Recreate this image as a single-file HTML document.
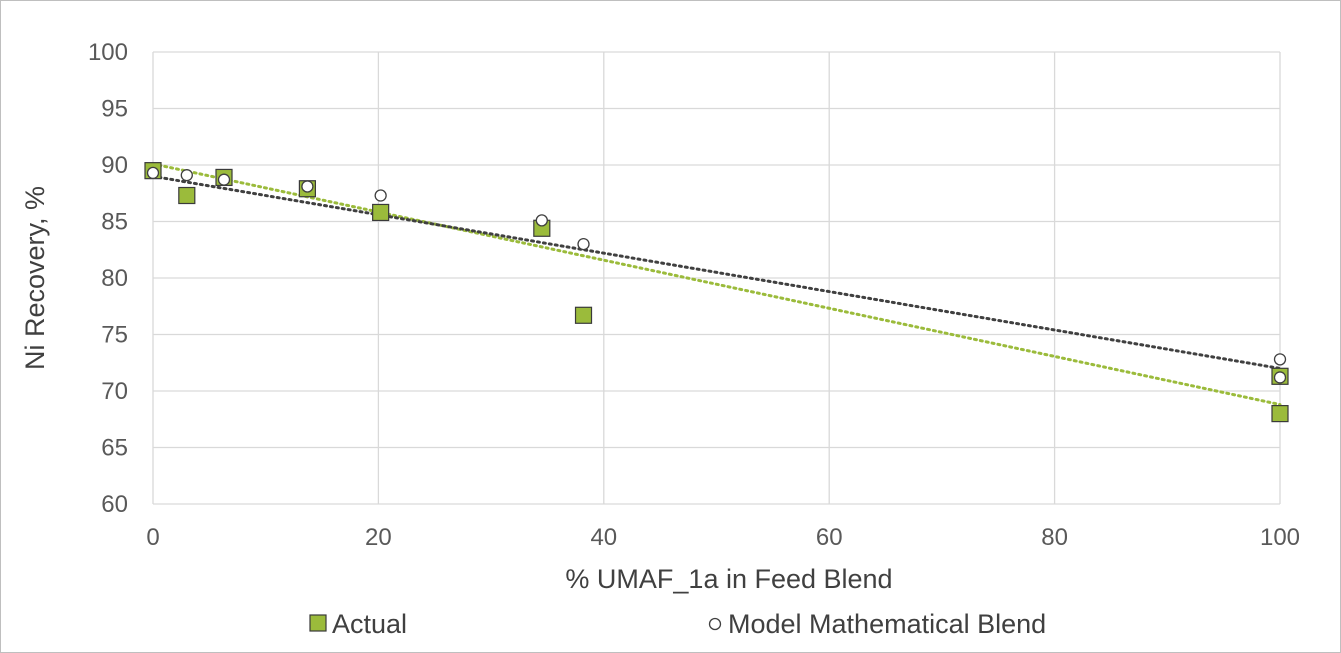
<!DOCTYPE html>
<html><head><meta charset="utf-8"><style>
html,body{margin:0;padding:0;background:#fff;}
svg{display:block;font-family:"Liberation Sans",Arial,sans-serif;}
</style></head><body>
<svg id="chart" width="1341" height="653">
<rect x="0.5" y="0.5" width="1340" height="652" fill="#fff" stroke="#bfbfbf"/>
<g id="grid"></g><g id="trends"></g><g id="marks"></g><g id="labels"></g>
<text x="44" y="278" font-size="27" fill="#404040" text-anchor="middle" transform="rotate(-90 44 278)">Ni Recovery, %</text>
<text x="729" y="588" font-size="27" fill="#404040" text-anchor="middle">% UMAF_1a in Feed Blend</text>
<g><rect x="310" y="615" width="16" height="16" fill="#9bbb3b" stroke="#3a3a3a" stroke-width="1.2"/><text x="332" y="633" font-size="27" fill="#404040">Actual</text></g>
<g><circle cx="715" cy="624" r="5.5" fill="#fff" stroke="#404040" stroke-width="1.3"/><text x="728" y="633" font-size="27" fill="#404040">Model Mathematical Blend</text></g>
</svg>
<script>
const xTicks=[0,20,40,60,80,100];
const yTicks=[60,65,70,75,80,85,90,95,100];
const actualX=[0,3,6.3,13.7,20.2,34.5,38.2,100,100];
const actualY=[89.5,87.3,88.9,87.9,85.8,84.4,76.7,71.3,68.0];
const modelX=[0,3,6.3,13.7,20.2,34.5,38.2,100,100];
const modelY=[89.3,89.1,88.7,88.1,87.3,85.1,83.0,72.8,71.2];
const actualTrend=[90.1,68.8];
const modelTrend=[89.0,72.0];
const NS="http://www.w3.org/2000/svg";
const X0=153,X1=1280,Y0=504,Y1=52;
const sx=v=>X0+(v-0)/(100-0)*(X1-X0);
const sy=v=>Y0-(v-60)/(100-60)*(Y0-Y1);
function mk(tag,attrs,parent){const e=document.createElementNS(NS,tag);for(const k in attrs)e.setAttribute(k,attrs[k]);parent.appendChild(e);return e;}
const grid=document.getElementById('grid'),labels=document.getElementById('labels'),marks=document.getElementById('marks'),trends=document.getElementById('trends');
yTicks.forEach(t=>{const l=mk('line',{x1:X0,x2:X1,y1:sy(t),y2:sy(t),stroke:'#d9d9d9','stroke-width':1.3},grid);


const tx=mk('text',{x:X0-25,y:sy(t)+8,'font-size':24,fill:'#595959','text-anchor':'end'},labels);tx.textContent=t;

});
xTicks.forEach(t=>{const l=mk('line',{x1:sx(t),x2:sx(t),y1:Y1,y2:Y0,stroke:'#d9d9d9','stroke-width':1.3},grid);


const tx=mk('text',{x:sx(t),y:Y0+41,'font-size':24,fill:'#595959','text-anchor':'middle'},labels);tx.textContent=t;

});
[[actualTrend,'#9bbb3b','actual-trendline'],[modelTrend,'#404040','model-trendline']].forEach(([tr,c,n])=>{
const l=mk('line',{x1:sx(0),y1:sy(tr[0]),x2:sx(100),y2:sy(tr[1]),stroke:c,'stroke-width':3,'stroke-dasharray':'2 4','stroke-linecap':'round'},trends);

});
actualX.forEach((x,i)=>{const r=mk('rect',{x:sx(x)-8,y:sy(actualY[i])-8,width:16,height:16,fill:'#9bbb3b',stroke:'#3a3a3a','stroke-width':1.2},marks);

});
modelX.forEach((x,i)=>{const c=mk('circle',{cx:sx(x),cy:sy(modelY[i]),r:5.5,fill:'#fff',stroke:'#404040','stroke-width':1.3},marks);

});
</script>
</body></html>
